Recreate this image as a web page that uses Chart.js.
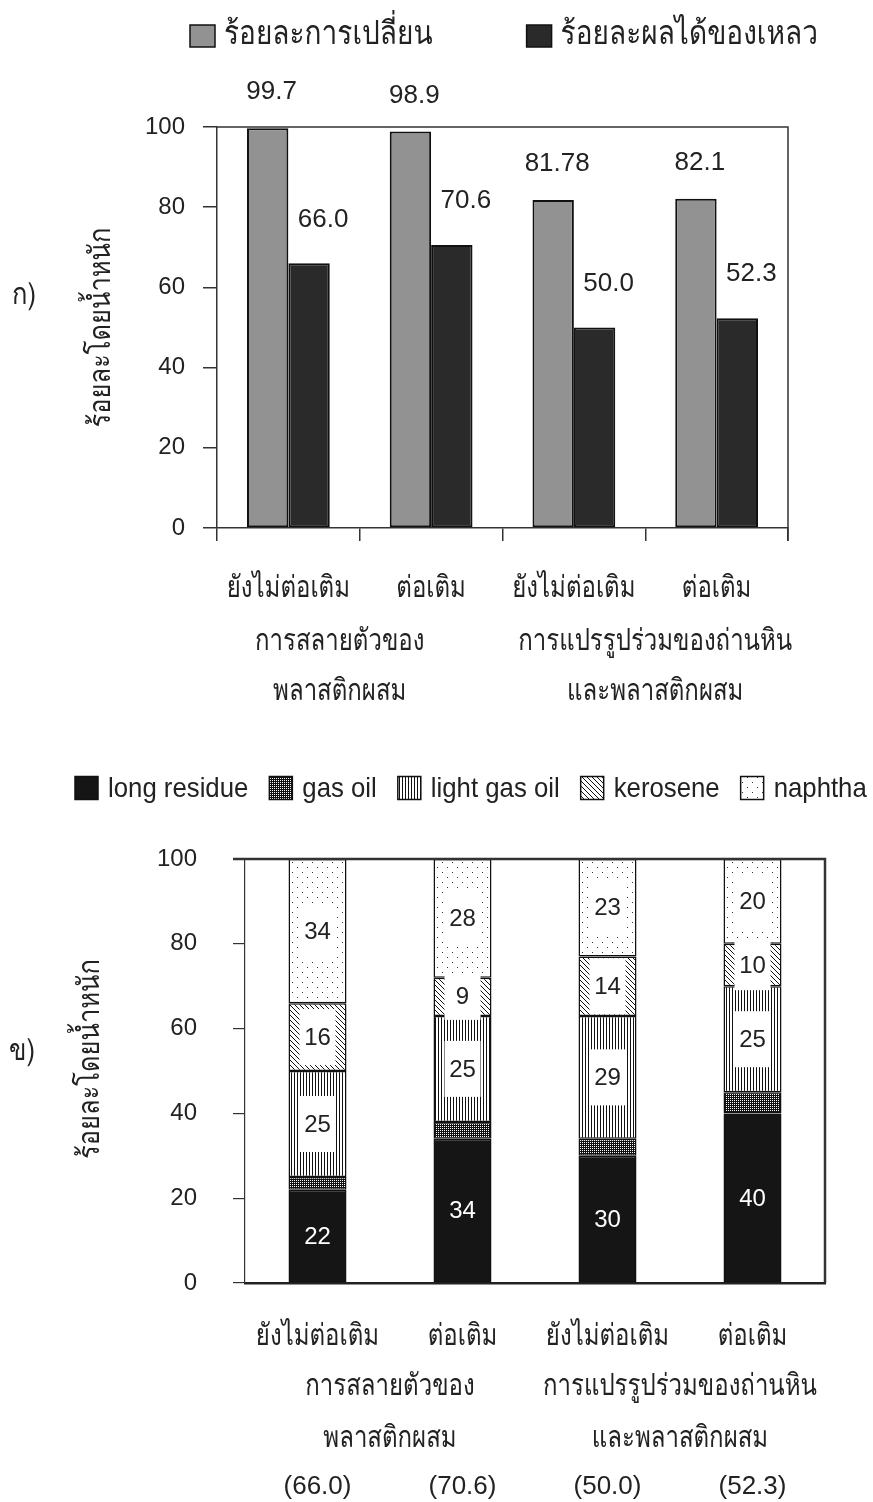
<!DOCTYPE html>
<html>
<head>
<meta charset="utf-8">
<script src="https://cdn.jsdelivr.net/npm/chart.js@4.4.0/dist/chart.umd.min.js"></script>
<style>
body { margin: 0; background: #fff; width: 873px; height: 1502px; overflow: hidden; }
canvas { position: absolute; left: 0; }
#topChart { top: 0; }
#bottomChart { top: 720px; }
</style>
</head>
<body>
<canvas id="topChart" width="873" height="720"></canvas>
<canvas id="bottomChart" width="873" height="782"></canvas>
<script>
const THAI = "Loma, Garuda, 'Noto Sans Thai', 'Tlwg Typo', Waree, 'Noto Sans', sans-serif";
const LATIN = "'Liberation Sans', Arial, sans-serif";
const INK = '#222';

// categories
const conditions = ['ยังไม่ต่อเติม', 'ต่อเติม', 'ยังไม่ต่อเติม', 'ต่อเติม'];
const processGroups = [
    ['การสลายตัวของ', 'พลาสติกผสม'],
    ['การแปรรูปร่วมของถ่านหิน', 'และพลาสติกผสม']
];
const yTitle = 'ร้อยละโดยน้ำหนัก';
const yTicks = [0, 20, 40, 60, 80, 100];

// chart ก) : conversion and liquid yield (wt%)
const conversion = [99.7, 98.9, 81.78, 82.1];
const liquidYield = [66.0, 70.6, 50.0, 52.3];

// chart ข) : liquid product distribution (wt%)
const longResidue = [22, 34, 30, 40];
const gasOil = [3, 4, 4, 5];
const lightGasOil = [25, 25, 29, 25];
const kerosene = [16, 9, 14, 10];
const naphtha = [34, 28, 23, 20];

function fmt(v) {
    return Number.isInteger(v * 10) ? v.toFixed(1) : String(v);
}

// narrow, tall text like the original typeface
function narrowText(ctx, text, x, y, sx, rot) {
    ctx.save();
    ctx.translate(x, y);
    if (rot) ctx.rotate(rot);
    ctx.scale(sx, 1);
    ctx.fillText(text, 0, 0);
    ctx.restore();
}

// Patterns for the stacked bars
function makePattern(ctx, size, draw) {
    const tile = document.createElement('canvas');
    tile.width = size[0];
    tile.height = size[1];
    const g = tile.getContext('2d');
    g.fillStyle = '#fff';
    g.fillRect(0, 0, size[0], size[1]);
    draw(g);
    return ctx.createPattern(tile, 'repeat');
}

// Shared plugins
const customLegend = {
    id: 'customLegend',
    afterDraw(chart, args, opts) {
        const ctx = chart.ctx;
        let x = opts.x;
        ctx.save();
        ctx.font = opts.font;
        ctx.textBaseline = 'middle';
        ctx.textAlign = 'left';
        chart.data.datasets.forEach(ds => {
            ctx.fillStyle = ds.backgroundColor;
            ctx.fillRect(x, opts.y - opts.boxH / 2, opts.boxW, opts.boxH);
            ctx.strokeStyle = '#111';
            ctx.lineWidth = 1.5;
            ctx.strokeRect(x, opts.y - opts.boxH / 2, opts.boxW, opts.boxH);
            ctx.fillStyle = INK;
            const tx = x + opts.boxW + opts.textGap;
            narrowText(ctx, ds.label, tx, opts.y + 1, opts.sx);
            x = tx + ctx.measureText(ds.label).width * opts.sx + opts.itemGap;
        });
        ctx.restore();
    }
};

const frame = {
    id: 'frame',
    afterDatasetsDraw(chart, args, opts) {
        const { left, right, top, bottom } = chart.chartArea;
        const ctx = chart.ctx;
        ctx.save();
        ctx.strokeStyle = opts.color;
        ctx.lineWidth = opts.width;
        ctx.beginPath();
        ctx.moveTo(left - opts.extend, top);
        ctx.lineTo(right, top);
        ctx.lineTo(right, bottom + opts.below);
        ctx.stroke();
        ctx.restore();
    }
};

const axisTexts = {
    id: 'axisTexts',
    afterDraw(chart, args, opts) {
        const ctx = chart.ctx;
        const xs = chart.scales.x;
        const area = chart.chartArea;
        ctx.save();
        ctx.fillStyle = INK;
        ctx.textAlign = 'center';
        ctx.textBaseline = 'middle';
        ctx.font = opts.font;
        conditions.forEach((c, i) => narrowText(ctx, c, xs.getPixelForValue(i), opts.rows[0], opts.sx));
        processGroups.forEach((lines, g) => {
            const cx = (xs.getPixelForValue(2 * g) + xs.getPixelForValue(2 * g + 1)) / 2 + opts.dx[g];
            lines.forEach((line, i) => narrowText(ctx, line, cx, opts.rows[i + 1], opts.sx));
        });
        if (opts.yields) {
            ctx.font = opts.yieldFont;
            opts.yields.forEach((v, i) => {
                ctx.fillText('(' + fmt(v) + ')', xs.getPixelForValue(i), opts.yieldRow);
            });
        }
        ctx.font = opts.titleFont;
        narrowText(ctx, yTitle, opts.titleX, (area.top + area.bottom) / 2 + opts.titleDy, opts.titleSx, -Math.PI / 2);
        narrowText(ctx, opts.tag, opts.tagX, opts.tagY, opts.titleSx);
        ctx.restore();
    }
};

// Chart ก)
const valueLabels = {
    id: 'valueLabels',
    afterDatasetsDraw(chart, args, opts) {
        const ctx = chart.ctx;
        ctx.save();
        ctx.font = opts.font;
        ctx.fillStyle = INK;
        ctx.textAlign = 'center';
        ctx.textBaseline = 'middle';
        chart.data.datasets.forEach((ds, d) => {
            chart.getDatasetMeta(d).data.forEach((bar, i) => {
                ctx.fillText(fmt(ds.data[i]), bar.x + opts.dx[d], bar.y - opts.dy[d]);
            });
        });
        ctx.restore();
    }
};

const topCtx = document.getElementById('topChart').getContext('2d');
new Chart(topCtx, {
    type: 'bar',
    data: {
        labels: conditions,
        datasets: [
            {
                label: 'ร้อยละการเปลี่ยน',
                data: conversion,
                backgroundColor: '#929292',
                borderColor: '#111',
                borderWidth: 2,
                borderSkipped: false
            },
            {
                label: 'ร้อยละผลได้ของเหลว',
                data: liquidYield,
                backgroundColor: '#2a2a2a',
                borderColor: '#111',
                borderWidth: 2,
                borderSkipped: false
            }
        ]
    },
    options: {
        responsive: false,
        animation: false,
        devicePixelRatio: 1,
        layout: { padding: { top: 127, right: 85, bottom: 102, left: 0 } },
        datasets: { bar: { categoryPercentage: 0.58, barPercentage: 1 } },
        plugins: {
            legend: { display: false },
            tooltip: { enabled: false },
            customLegend: { x: 190, y: 36, boxW: 25, boxH: 22, textGap: 9, itemGap: 94, font: '33px ' + THAI, sx: 0.85 },
            frame: { color: '#333', width: 1.5, extend: 0, below: 13 },
            valueLabels: { font: '26px ' + LATIN, dx: [4, 14], dy: [36, 44] },
            axisTexts: {
                font: '30px ' + THAI, sx: 0.8, rows: [590, 643, 693], dx: [-20, 10],
                titleFont: '30px ' + THAI, titleSx: 0.85, titleX: 103, titleDy: 0,
                tag: 'ก)', tagX: 24, tagY: 297
            }
        },
        scales: {
            x: {
                grid: { display: true, drawOnChartArea: false, tickLength: 13, color: '#333', lineWidth: 1.5, offset: true },
                border: { color: '#333', width: 1.5 },
                ticks: { display: false },
                afterFit: s => { s.height = 90; }
            },
            y: {
                min: 0,
                max: 100,
                afterBuildTicks: s => { s.ticks = yTicks.map(v => ({ value: v })); },
                grid: { display: true, drawOnChartArea: false, tickLength: 14, color: '#333', lineWidth: 1.5 },
                border: { color: '#333', width: 1.5 },
                ticks: { font: { family: LATIN, size: 24 }, color: INK, padding: 18 },
                afterFit: s => { s.width = 217; }
            }
        }
    },
    plugins: [customLegend, frame, valueLabels, axisTexts]
});

// Chart ข)
const segmentLabels = {
    id: 'segmentLabels',
    afterDatasetsDraw(chart, args, opts) {
        const ctx = chart.ctx;
        ctx.save();
        ctx.font = opts.font;
        ctx.textAlign = 'center';
        ctx.textBaseline = 'middle';
        chart.data.datasets.forEach((ds, d) => {
            if (opts.skip.includes(d)) return;
            chart.getDatasetMeta(d).data.forEach((bar, i) => {
                const cy = (bar.y + bar.base) / 2;
                if (d === 0) {
                    ctx.fillStyle = '#fff';
                } else {
                    const w = bar.width - opts.inset;
                    const h = Math.min(opts.boxH, Math.abs(bar.base - bar.y) + 8);
                    ctx.fillStyle = '#fff';
                    ctx.fillRect(bar.x - w / 2, cy - h / 2, w, h);
                    ctx.fillStyle = INK;
                }
                ctx.fillText(String(ds.data[i]), bar.x, cy + 1);
            });
        });
        ctx.restore();
    }
};

const bottomCtx = document.getElementById('bottomChart').getContext('2d');
const patLong = '#151515';
const patGas = makePattern(bottomCtx, [4, 4], g => {
    g.fillStyle = '#111';
    g.fillRect(0, 0, 4, 4);
    g.fillStyle = '#fff';
    g.fillRect(0, 0, 1, 1);
    g.fillRect(2, 2, 1, 1);
    g.fillRect(2, 0, 1, 1);
    g.fillRect(0, 2, 1, 1);
});
const patLight = makePattern(bottomCtx, [3, 3], g => {
    g.fillStyle = '#111';
    g.fillRect(0, 0, 1, 3);
});
const patKero = makePattern(bottomCtx, [5, 5], g => {
    g.fillStyle = '#111';
    for (let i = 0; i < 5; i++) g.fillRect(i, i, 1, 1);
});
const patNaph = makePattern(bottomCtx, [10, 10], g => {
    g.fillStyle = '#333';
    g.fillRect(2, 2, 1, 1);
    g.fillRect(7, 7, 1, 1);
});

function stackSet(label, data, fill) {
    return { label, data, backgroundColor: fill, borderColor: '#111', borderWidth: 1.5, borderSkipped: false };
}

new Chart(bottomCtx, {
    type: 'bar',
    data: {
        labels: conditions,
        datasets: [
            stackSet('long residue', longResidue, patLong),
            stackSet('gas oil', gasOil, patGas),
            stackSet('light gas oil', lightGasOil, patLight),
            stackSet('kerosene', kerosene, patKero),
            stackSet('naphtha', naphtha, patNaph)
        ]
    },
    options: {
        responsive: false,
        animation: false,
        devicePixelRatio: 1,
        layout: { padding: { top: 139, right: 48, bottom: 129, left: 0 } },
        datasets: { bar: { categoryPercentage: 1, barPercentage: 0.4 } },
        plugins: {
            legend: { display: false },
            tooltip: { enabled: false },
            customLegend: { x: 75, y: 68, boxW: 23, boxH: 23, textGap: 10, itemGap: 21, font: '28px ' + LATIN, sx: 0.92 },
            frame: { color: '#333', width: 2.5, extend: 12, below: 0 },
            segmentLabels: { font: '24px ' + LATIN, skip: [1], inset: 22, boxH: 56 },
            axisTexts: {
                font: '30px ' + THAI, sx: 0.8, rows: [618, 668, 720], dx: [0, 0],
                yields: liquidYield, yieldFont: '26px ' + LATIN, yieldRow: 767,
                titleFont: '30px ' + THAI, titleSx: 0.85, titleX: 92, titleDy: -12,
                tag: 'ข)', tagX: 22, tagY: 333
            }
        },
        scales: {
            x: {
                stacked: true,
                grid: { display: false, drawTicks: false },
                border: { color: '#222', width: 2.5 },
                ticks: { display: false },
                afterFit: s => { s.height = 90; }
            },
            y: {
                stacked: true,
                min: 0,
                max: 100,
                afterBuildTicks: s => { s.ticks = yTicks.map(v => ({ value: v })); },
                grid: { display: true, drawOnChartArea: false, tickLength: 12, color: '#333', lineWidth: 1.2 },
                border: { color: '#333', width: 1.2 },
                ticks: { font: { family: LATIN, size: 24 }, color: INK, padding: 36 },
                afterFit: s => { s.width = 245; }
            }
        }
    },
    plugins: [customLegend, frame, segmentLabels, axisTexts]
});
</script>
</body>
</html>
